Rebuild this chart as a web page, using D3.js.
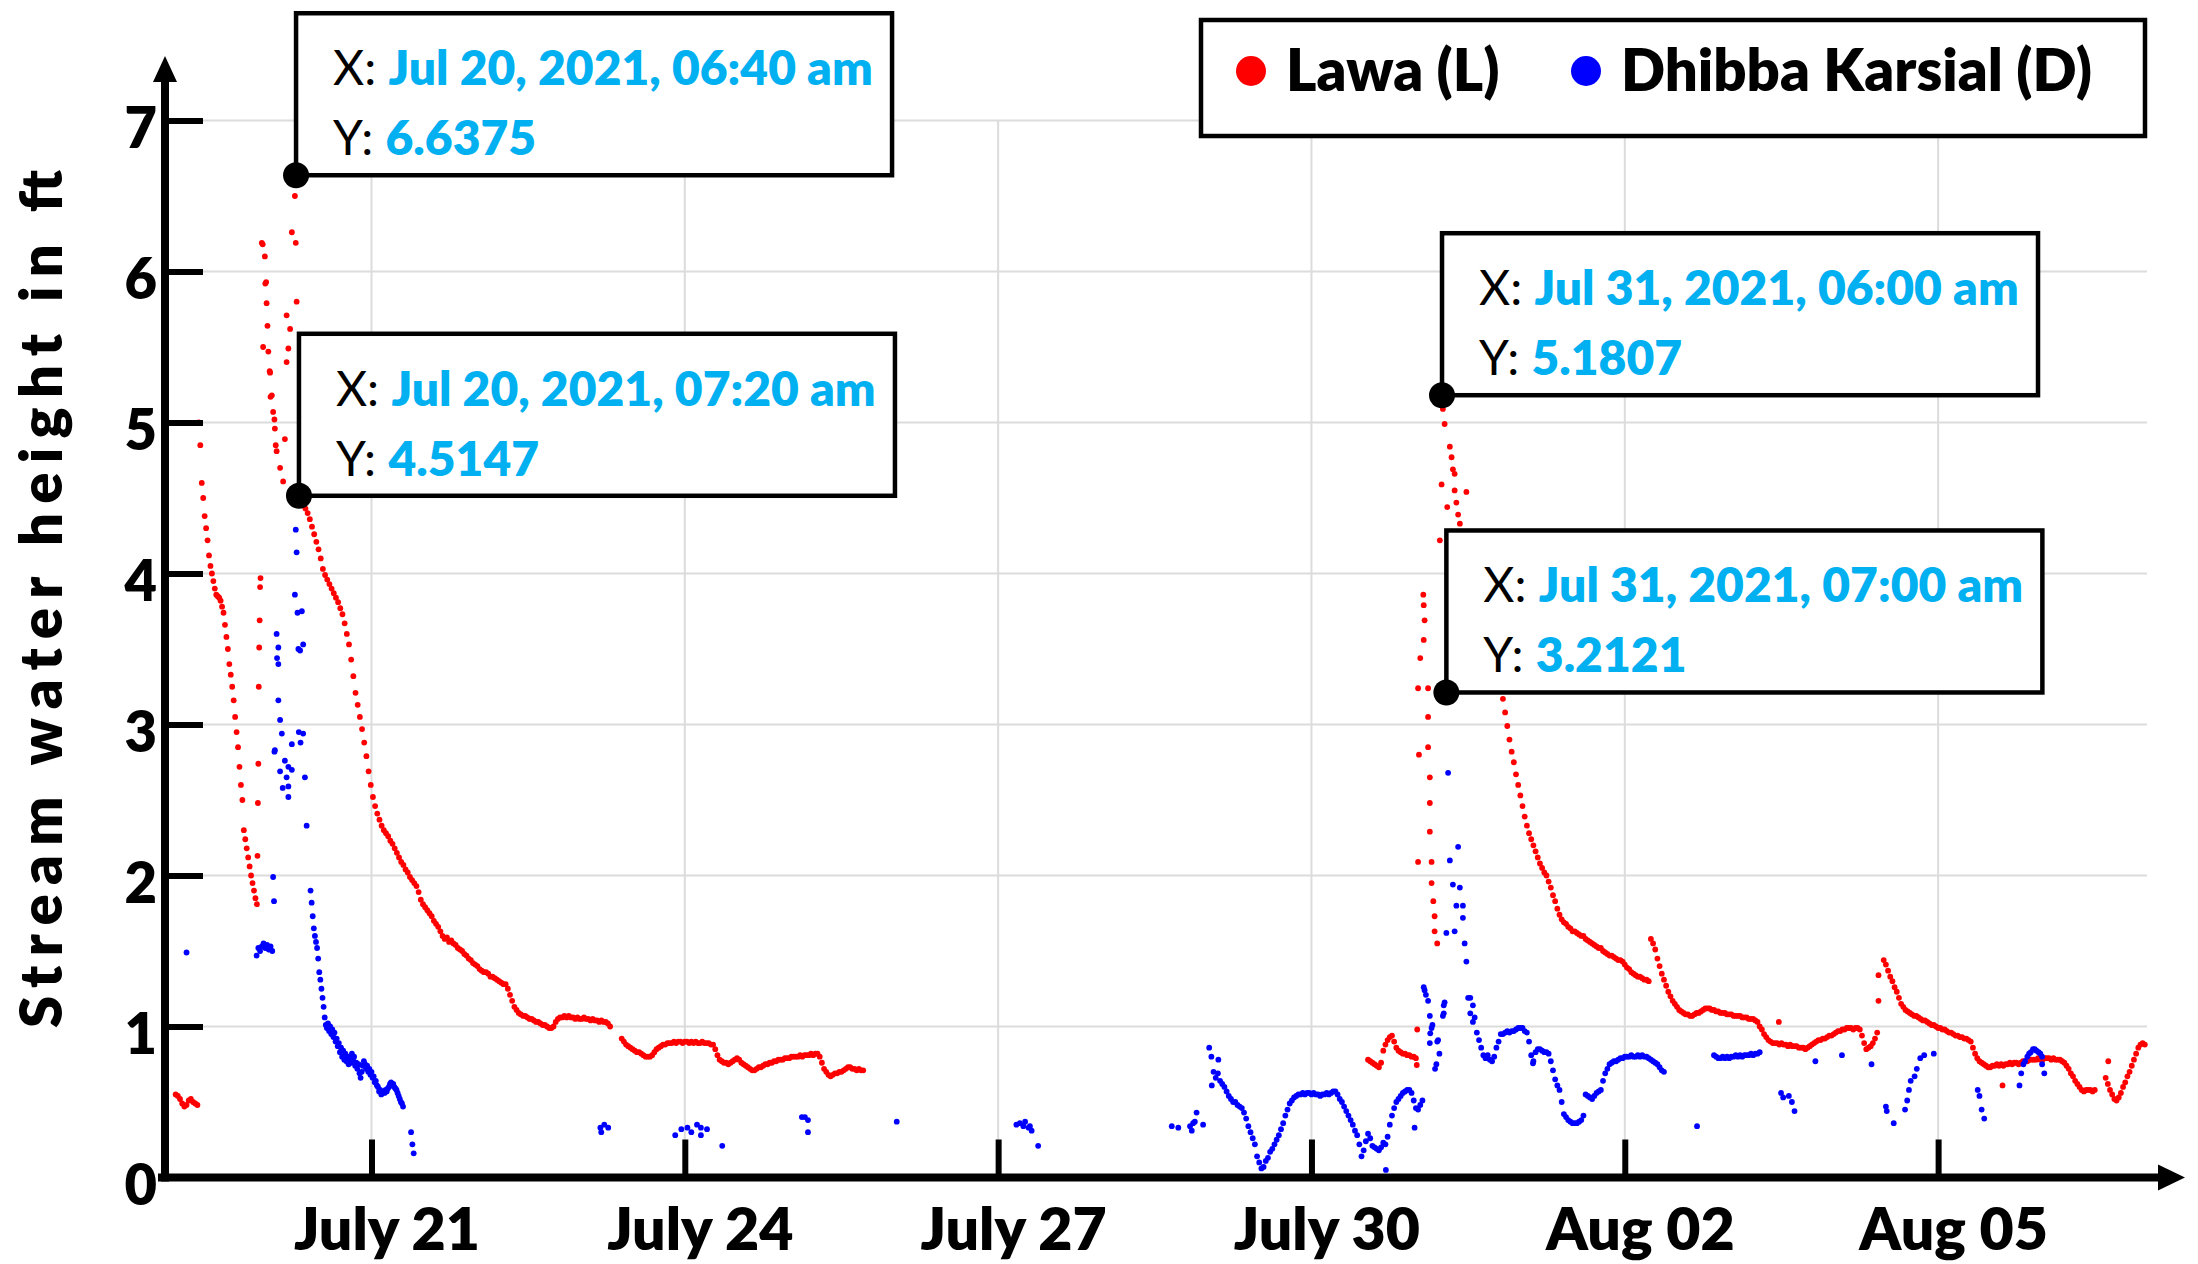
<!DOCTYPE html>
<html>
<head>
<meta charset="utf-8">
<script src="https://cdn.jsdelivr.net/npm/d3@7"></script>
<style>
  body { margin: 0; background: #fff; }
  svg { display: block; }
</style>
</head>
<body>
<script>
// ---- data -------------------------------------------------------------
// times are hours after 19 Jul 2021 00:00 (local)
// runs of regular sensor samples: [start hour, step in minutes, values]
const lawaRuns = [
  [3, 30, [0.55,0.54,0.52,0.49,0.47,0.48,0.51,0.52,0.50,0.49,0.48]],
  [8.333, 20, [5.00,4.85,4.60,4.50,4.38,4.30,4.22,4.12,4.05,4.00,3.95,3.90,3.86,3.85,3.84,3.82,3.78,3.74,3.66,3.58,
    3.50,3.40,3.33,3.25,3.16,3.05,2.95,2.85,2.72,2.60,2.50,2.30,2.24,2.18,2.12,2.06,2.00,1.95,1.90,1.85,1.81]],
  [31.333, 30, [4.51,4.48,4.45,4.43,4.40,4.36,4.31,4.26,4.21,4.16,4.10,4.03,3.99,3.96,3.93,3.90,3.87,3.84,3.81,3.77,
    3.73,3.67,3.60,3.53,3.43,3.32,3.21,3.13,3.05,2.97,2.88,2.79,2.69,2.60,2.52,2.46,2.41,2.37,2.33,2.30,
    2.28,2.26,2.23,2.21,2.18,2.15,2.12,2.09,2.07,2.04,2.02,1.99,1.97,1.95,1.93,1.89,1.84,1.81]],
  [60.333, 30, [1.79,1.77,1.75,1.73,1.70,1.68,1.66,1.63,1.60,1.58,1.59,1.56,1.57,1.55,1.54,1.52,1.51,1.50,1.48,1.47,
    1.45,1.44,1.42,1.41,1.40,1.38,1.37,1.36,1.36,1.35,1.33,1.33,1.32,1.31,1.30,1.29,1.28,1.28,1.25,1.21,
    1.17,1.13,1.11,1.09,1.08,1.07,1.07,1.06,1.05,1.05,1.04,1.03,1.03,1.02,1.01,1.01,1.00,0.99,0.99,1.00,
    1.03,1.05,1.06,1.06,1.07,1.06,1.07,1.06,1.06,1.05,1.06,1.05,1.05,1.06,1.05,1.05,1.04,1.05,1.04,1.04,
    1.03,1.04,1.03,1.03,1.02,1.00]],
  [105.5, 30, [0.92,0.90,0.88,0.87,0.86,0.85,0.84,0.83,0.83,0.82,0.81,0.80,0.80,0.80,0.81,0.83,0.85,0.86,0.87,0.88,
    0.88,0.89,0.89,0.89,0.90,0.89,0.90,0.90,0.89,0.90,0.90,0.89,0.90,0.89,0.90,0.89,0.89,0.90,0.89,0.89,
    0.89,0.88,0.88,0.85,0.81,0.78,0.77,0.76,0.76,0.75,0.76,0.77,0.78,0.79,0.78,0.76,0.75,0.74,0.73,0.72,
    0.71,0.71,0.72,0.73,0.73,0.74,0.75,0.75,0.76,0.76,0.77,0.77,0.78,0.78,0.78,0.79,0.79,0.79,0.80,0.80,
    0.80,0.80,0.81,0.80,0.81,0.81,0.81,0.82,0.81,0.82,0.82,0.80,0.76,0.72,0.70,0.68,0.67,0.68,0.69,0.69,
    0.70,0.70,0.71,0.72,0.73,0.73,0.72,0.72,0.71,0.72,0.71,0.71]],
  [277, 30, [0.78,0.77,0.76,0.75,0.74,0.73,0.76,0.84,0.88,0.91,0.93,0.94,0.90,0.86,0.84,0.83,0.82,0.82,0.81,0.81,
    0.80,0.80,0.79]],
  [307.5, 30, [3.24,3.17,3.08,2.99,2.90,2.82,2.75,2.67,2.60,2.53,2.46,2.39,2.33,2.28,2.24,2.20,2.16,2.12,2.08,2.05,
    2.02,2.00,1.96,1.92,1.87,1.83,1.78,1.74,1.71,1.69,1.68,1.66,1.65,1.63,1.63,1.62,1.61,1.60,1.60,1.58,
    1.57,1.56,1.55,1.54,1.53,1.52,1.52,1.50,1.49,1.48,1.47,1.47,1.46,1.45,1.44,1.44,1.43,1.41,1.39,1.38,
    1.36,1.35,1.34,1.33,1.33,1.32,1.31,1.31,1.30]],
  [342, 30, [1.58,1.55,1.51,1.45,1.40,1.35,1.31,1.27,1.23,1.20,1.17,1.15,1.13,1.11,1.10,1.09,1.08,1.08,1.07,1.07,
    1.08,1.09,1.09,1.10,1.11,1.12,1.12,1.12,1.11,1.11,1.10,1.10,1.09,1.09,1.09,1.08,1.08,1.08,1.07,1.07,
    1.07,1.07,1.06,1.06,1.06,1.05,1.05,1.05,1.04,1.03,1.00,0.98,0.95,0.93,0.91,0.90,0.89,0.89,0.89,0.88,
    0.89,0.88,0.88,0.87,0.88,0.87,0.87,0.87,0.86,0.86,0.86,0.85,0.86,0.87,0.88,0.89,0.90,0.91,0.91,0.92,
    0.92,0.93,0.94,0.94,0.95,0.96,0.97,0.97,0.98,0.98,0.99,0.99,0.99,0.98,0.99,0.99,0.98,0.94,0.89,0.85,
    0.86,0.87,0.89,0.92,0.96]],
  [395.5, 30, [1.44,1.41,1.37,1.33,1.30,1.26,1.23,1.19,1.15,1.13,1.11,1.10,1.09,1.08,1.07,1.07,1.06,1.05,1.04,1.04,
    1.03,1.02,1.01,1.01,1.00,0.99,0.99,0.98,0.98,0.97,0.96,0.96,0.95,0.94,0.94,0.93,0.93,0.92,0.92,0.91,
    0.90,0.86,0.82,0.79,0.77,0.76,0.75,0.74,0.73,0.73,0.74,0.74,0.75,0.74,0.75,0.74,0.75,0.75,0.76,0.75,
    0.76,0.76,0.75,0.76,0.77,0.77,0.77,0.78,0.78,0.78,0.78,0.79,0.78,0.78,0.79,0.79,0.79,0.78,0.79,0.78,
    0.78,0.78,0.77,0.76,0.74,0.72,0.69,0.67,0.64,0.62,0.60,0.58,0.57,0.58,0.58,0.58,0.57,0.58]],
  [446.5, 30, [0.66,0.62,0.58,0.55,0.52,0.51,0.53,0.56,0.60,0.63,0.67,0.70,0.74,0.78,0.82,0.86,0.88,0.89,0.88]]
];
// single Lawa readings: [hour, value]
const lawaPoints = [
  [21.8,2.13],[21.9,2.48],[22.0,2.74],[22.1,3.25],[22.2,3.51],[22.3,3.69],[22.4,3.91],[22.5,3.97],
  [22.8,6.19],[23.0,6.18],[23.1,5.50],[23.5,6.10],[23.6,5.92],[23.8,5.93],[23.9,5.79],[24.1,5.64],[24.3,5.47],
  [24.6,5.34],[24.7,5.33],[24.8,5.17],[25.1,5.18],[25.4,5.07],[25.7,5.02],[25.8,4.96],[26.0,4.85],[26.2,4.81],
  [27.0,4.70],[27.7,4.61],[28.1,4.89],[28.5,5.40],[28.5,5.71],[28.9,5.49],[29.3,5.62],[29.7,6.26],
  [30.4,6.50],[30.6,6.19],[30.8,5.80],[30.67,6.64],
  [288.2,0.745],[288.3,0.98],
  [288.5,2.09],[288.5,3.24],[288.7,2.80],[289.0,3.44],[289.7,3.86],[289.8,3.79],[290.0,3.69],[289.8,3.56],
  [290.8,3.24],[290.8,3.05],[290.8,2.85],[291.2,2.65],[291.2,2.48],[291.2,2.29],[291.6,2.09],[291.6,1.95],
  [292.0,1.83],[292.3,1.73],[292.3,1.63],[292.9,1.55],
  [293.5,4.22],[293.9,4.59],[294.0,5.18],[294.2,5.09],[294.6,4.99],[295.2,4.44],[295.8,4.84],[296.2,4.77],
  [296.5,4.69],[296.9,4.66],[296.9,4.55],[297.3,4.47],[297.7,4.39],[298.1,4.33],[299.6,4.54],[295.0,3.21],
  [371.4,1.03],[394.3,1.34],[394.3,1.17],[422.8,0.61],[447.1,0.77]
];

const dhibbaRuns = [
  [34, 15, [1.90,1.82,1.73,1.65,1.60,1.56,1.52,1.45,1.36,1.31,1.25,1.19,1.13,1.06,1.01]],
  [37.75, 15, [0.99,1.02,0.97,1.00,0.95,0.98,0.93,0.96,0.90,0.92,0.87,0.89,0.83,0.86,0.80,0.84,0.78,0.82,0.77,0.80,
    0.75,0.79,0.76,0.82,0.78,0.80,0.74,0.76,0.72,0.75,0.69,0.66,0.70,0.74,0.77,0.75,0.72,0.74,0.70,0.72,
    0.68,0.70,0.66,0.67,0.63,0.64,0.61,0.60,0.57,0.58,0.55,0.56,0.57,0.56,0.58,0.57,0.59,0.60,0.62,0.63,
    0.61,0.62,0.60,0.59,0.58,0.56,0.54,0.52,0.50,0.49,0.47]],
  [240.5, 30, [0.86,0.80,0.70,0.66,0.69,0.64,0.62,0.60,0.57,0.54,0.52,0.50,0.50,0.48,0.47,0.46,0.43,0.39,0.34,0.30,
    0.26,0.22,0.14,0.10,0.06,0.07,0.11,0.13,0.17,0.19,0.22,0.25,0.28,0.32,0.36,0.41,0.45,0.49,0.51,0.53,
    0.54,0.55,0.55,0.56,0.55,0.56,0.56,0.55,0.56,0.55,0.55,0.54,0.55,0.55,0.56,0.55,0.56,0.57,0.57,0.55,
    0.52,0.50,0.47,0.44,0.41,0.38,0.35,0.31,0.28,0.22,0.14,0.18,0.24,0.29,0.26,0.21,0.20,0.19,0.18,0.20,
    0.23,0.22,0.27,0.35,0.41,0.46,0.50,0.52,0.54,0.56,0.57,0.58,0.58,0.56,0.51,0.46,0.45,0.48,0.51]],
  [301.5, 30, [1.06,0.96,0.91,0.86,0.81,0.79,0.81,0.78,0.77,0.80,0.86,0.90,0.95,0.95,0.96,0.97,0.96,0.97,0.97,0.98,
    0.99,0.99,0.99,0.97,0.96,0.90,0.81,0.77,0.83,0.85,0.85,0.84,0.83,0.83,0.82,0.77,0.71,0.65,0.61,0.58,
    0.50,0.42,0.40,0.38,0.37,0.36,0.36,0.36,0.37,0.38,0.41,0.55,0.54,0.53,0.52,0.54,0.56,0.57,0.58,0.64,
    0.69,0.72,0.75,0.76,0.77,0.77,0.78,0.79,0.79,0.80,0.80,0.80,0.81,0.80,0.80,0.81,0.80,0.81,0.80,0.80,
    0.79,0.78,0.77,0.76,0.75,0.73,0.71,0.70]],
  [356.5, 30, [0.81,0.80,0.79,0.79,0.80,0.79,0.80,0.79,0.80,0.80,0.81,0.80,0.81,0.80,0.81,0.81,0.81,0.82,0.81,0.82,
    0.82,0.83]]
];
const dhibbaPoints = [
  [5.5,1.49],
  [21.6,1.47],[22.0,1.52],[22.4,1.50],[22.8,1.53],[23.2,1.55],[23.6,1.52],[24.0,1.54],[24.4,1.51],[24.8,1.53],[25.2,1.50],
  [25.4,1.99],[25.6,1.83],
  [25.7,2.82],[25.8,2.83],[26.2,3.60],[26.3,3.44],[26.6,3.51],[26.6,3.40],[26.6,3.16],[27.0,3.03],[27.0,2.69],
  [27.4,2.94],[27.6,2.58],[28.1,2.76],[28.5,2.65],[28.9,2.72],[28.9,2.59],[28.9,2.52],[29.7,2.87],[29.7,2.70],
  [30.4,3.86],[30.6,4.29],[30.8,4.14],[31.0,3.74],[31.2,3.50],[31.3,2.95],[31.6,3.49],[31.7,2.88],[32.0,3.75],
  [32.3,3.53],[32.3,2.94],[32.7,2.65],[33.1,2.33],
  [57.1,0.30],[57.4,0.22],[57.7,0.16],
  [100.6,0.33],[100.8,0.30],[101.5,0.35],[102.4,0.33],
  [117.8,0.28],[119.2,0.32],[120.6,0.33],[121.5,0.30],[122.8,0.35],[123.7,0.33],[123.7,0.28],[125.1,0.32],[128.6,0.21],
  [146.9,0.40],[147.6,0.40],[148.3,0.38],[148.3,0.30],
  [168.7,0.37],
  [196.2,0.35],[197.0,0.36],[197.8,0.34],[198.2,0.37],[199.0,0.33],[199.3,0.34],[199.7,0.31],[201.2,0.21],
  [231.9,0.34],[233.4,0.33],[236.1,0.34],[236.5,0.31],[236.8,0.36],[237.2,0.37],[237.6,0.43],[239.1,0.35],
  [241.1,0.61],[242.6,0.78],[281.1,0.05],[287.7,0.33],
  [289.8,1.26],[290.0,1.24],[290.3,1.21],[290.8,1.17],[291.2,1.07],[291.6,0.99],[291.2,0.89],[291.8,1.01],
  [291.3,0.955],[292.4,0.72],[292.7,0.75],[292.9,0.90],[293.1,0.91],[293.4,0.82],[294.2,1.07],[294.4,1.14],
  [294.4,1.087],[294.6,1.16],[295.0,1.62],[295.4,3.15],[295.4,2.68],[295.8,2.10],[296.5,1.94],[296.9,1.63],
  [297.3,1.80],[297.7,2.19],[298.1,1.92],[298.8,1.80],[298.8,1.72],[299.2,1.55],[299.6,1.43],[300.0,1.19],
  [300.5,1.19],[301.1,1.14],[300.5,1.087],[301.1,1.03],[314.9,0.756],
  [352.6,0.34],
  [371.9,0.56],[372.4,0.53],[373.7,0.54],[374.4,0.50],[375.0,0.44],
  [379.8,0.77],[385.9,0.81],[392.7,0.75],
  [396.0,0.47],[396.2,0.44],[397.8,0.36],[400.4,0.45],[400.9,0.51],[401.3,0.58],[401.7,0.64],[402.6,0.67],
  [403.1,0.72],[403.9,0.79],[404.8,0.81],[407.0,0.82],
  [417.1,0.58],[417.5,0.54],[418.0,0.45],[418.6,0.39],
  [426.7,0.61],[427.1,0.69],[427.6,0.75],[428.0,0.77],[428.5,0.80],[428.9,0.82],[429.3,0.83],[429.8,0.85],
  [430.2,0.85],[430.6,0.84],[431.1,0.83],[431.5,0.82],[431.9,0.80],[431.9,0.75],[432.4,0.69]
];

const seriesNames = ["Lawa (L)", "Dhibba Karsial (D)"];
const xTickDates = ["2021-07-21", "2021-07-24", "2021-07-27", "2021-07-30", "2021-08-02", "2021-08-05"];
const xTickLabels = ["July 21", "July 24", "July 27", "July 30", "Aug 02", "Aug 05"];
const yTicks = [0, 1, 2, 3, 4, 5, 6, 7];
// data tips
const tipTimes = ["2021-07-20 06:40", "2021-07-20 07:20", "2021-07-31 06:00", "2021-07-31 07:00"];
const tipValues = [6.6375, 4.5147, 5.1807, 3.2121];

// ---- setup ------------------------------------------------------------
const W = 2198, H = 1264;
const red = "#ff0000", blue = "#0000ff", tipBlue = "#00b0f0";
const font = "Lato, 'Open Sans', sans-serif";

const parseDay = d3.timeParse("%Y-%m-%d");
const parseTime = d3.timeParse("%Y-%m-%d %H:%M");
const t0 = parseDay("2021-07-19");
const atHour = h => new Date(t0.getTime() + h * 3600e3);

function expand(runs, points) {
  const out = [];
  runs.forEach(([h0, step, vals]) => {
    vals.forEach((v, i) => out.push({t: atHour(h0 + i * step / 60), v: v}));
  });
  points.forEach(([h, v]) => out.push({t: atHour(h), v: v}));
  return out;
}
const lawa = expand(lawaRuns, lawaPoints);
const dhibba = expand(dhibbaRuns, dhibbaPoints);

const svg = d3.select("body").append("svg")
  .attr("width", W).attr("height", H)
  .style("background", "#fff");

const x = d3.scaleTime()
  .domain([t0, parseDay("2021-08-07")])
  .range([162.6, 2147]);
const y = d3.scaleLinear()
  .domain([0, 7])
  .range([1177.5, 120.5]);

// gridlines
const grid = svg.append("g").attr("stroke", "#dcdcdc").attr("stroke-width", 2);
grid.selectAll(".hg").data(yTicks.filter(d => d > 0)).join("line")
  .attr("x1", x.range()[0]).attr("x2", x.range()[1])
  .attr("y1", d => y(d)).attr("y2", d => y(d));
grid.selectAll(".vg").data(xTickDates.map(parseDay)).join("line")
  .attr("x1", d => x(d)).attr("x2", d => x(d))
  .attr("y1", y(0)).attr("y2", y(7));

// dots
svg.append("g").selectAll("circle").data(lawa).join("circle")
  .attr("cx", d => x(d.t)).attr("cy", d => y(d.v))
  .attr("r", 2.9).attr("fill", red);
svg.append("g").selectAll("circle").data(dhibba).join("circle")
  .attr("cx", d => x(d.t)).attr("cy", d => y(d.v))
  .attr("r", 2.9).attr("fill", blue);

// x axis ticks + labels (ticks point inward)
const gx = svg.append("g")
  .attr("transform", `translate(0,${y(0)})`)
  .call(d3.axisBottom(x)
    .tickValues(xTickDates.map(parseDay))
    .tickFormat((d, i) => xTickLabels[i])
    .tickSizeInner(-38).tickSizeOuter(0).tickPadding(31));
gx.select(".domain").remove();
gx.selectAll(".tick line").attr("stroke", "#000").attr("stroke-width", 6);
gx.selectAll(".tick text")
  .attr("dx", 15)
  .attr("fill", "#000")
  .style("font-family", font).style("font-weight", "800").style("font-size", "59px");

// y axis
const gy = svg.append("g")
  .attr("transform", `translate(165,0)`)
  .call(d3.axisLeft(y)
    .tickValues(yTicks)
    .tickFormat(d3.format("d"))
    .tickSizeInner(-38).tickSizeOuter(0).tickPadding(8));
gy.select(".domain").remove();
gy.selectAll(".tick line").attr("stroke", "#000").attr("stroke-width", 6);
gy.selectAll(".tick text")
  .attr("dy", "0.48em")
  .attr("fill", "#000")
  .style("font-family", font).style("font-weight", "800").style("font-size", "56px");

// axis lines with arrow heads
svg.append("line")
  .attr("x1", 158).attr("x2", 2165).attr("y1", y(0)).attr("y2", y(0))
  .attr("stroke", "#000").attr("stroke-width", 8);
svg.append("line")
  .attr("x1", 165).attr("x2", 165).attr("y1", y(0) + 4).attr("y2", 75)
  .attr("stroke", "#000").attr("stroke-width", 8);
svg.append("path")
  .attr("d", `M165,56 L153,82 L177,82 Z`).attr("fill", "#000");
svg.append("path")
  .attr("d", `M2185,${y(0)} L2158,${y(0) - 13} L2158,${y(0) + 13} Z`).attr("fill", "#000");

// y axis title
svg.append("text")
  .attr("transform", "translate(62,599) rotate(-90)")
  .attr("text-anchor", "middle")
  .attr("textLength", 858).attr("lengthAdjust", "spacing")
  .style("font-family", font).style("font-weight", "800").style("font-size", "58px")
  .attr("fill", "#000")
  .text("Stream water height in ft");

// data tips
const fmtTime = d3.timeFormat("%b %d, %Y, %I:%M %p");
tipTimes.forEach((s, i) => {
  const t = parseTime(s);
  const px = x(t), py = y(tipValues[i]);
  const bx = px, by = py - 162;
  svg.append("rect")
    .attr("x", bx).attr("y", by).attr("width", 596).attr("height", 162)
    .attr("fill", "#fff").attr("stroke", "#000").attr("stroke-width", 4.5);
  const lines = [["X: ", fmtTime(t).replace("AM", "am").replace("PM", "pm")],
                 ["Y: ", String(tipValues[i])]];
  lines.forEach(([k, v], j) => {
    const tx = svg.append("text")
      .attr("x", bx + 37).attr("y", by + 72 + j * 70)
      .style("font-family", font).style("font-size", "48px");
    tx.append("tspan").attr("fill", "#000").text(k);
    tx.append("tspan").attr("fill", tipBlue).style("font-weight", "800").text(v);
  });
  svg.append("circle").attr("cx", px).attr("cy", py).attr("r", 13).attr("fill", "#000");
});

// legend
const lg = svg.append("g");
lg.append("rect")
  .attr("x", 1201).attr("y", 20).attr("width", 944).attr("height", 116)
  .attr("fill", "#fff").attr("stroke", "#000").attr("stroke-width", 4.5);
const legendX = [1251, 1586];
seriesNames.forEach((name, i) => {
  lg.append("circle").attr("cx", legendX[i]).attr("cy", 71).attr("r", 15)
    .attr("fill", i === 0 ? red : blue);
  lg.append("text")
    .attr("x", legendX[i] + 35).attr("y", 91)
    .style("font-family", font).style("font-weight", "800").style("font-size", "58px")
    .attr("fill", "#000")
    .text(name);
});
</script>
</body>
</html>
